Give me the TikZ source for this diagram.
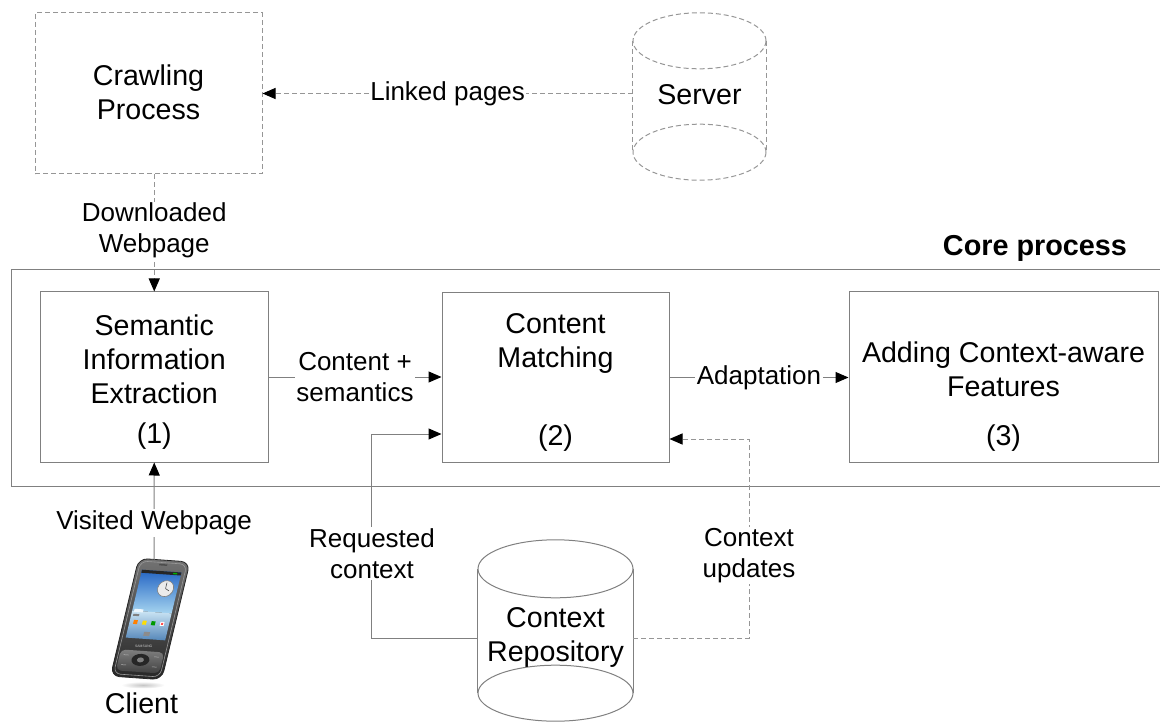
\documentclass[tikz,border=0pt]{standalone}
\usepackage{fontspec}
\setmainfont{Liberation Sans}
\usetikzlibrary{arrows.meta,calc}
\definecolor{linegray}{RGB}{128,128,128}
\definecolor{dashgray}{RGB}{150,150,150}
\definecolor{skytop}{RGB}{35,100,195}
\definecolor{skymid}{RGB}{165,212,240}
\definecolor{haze}{RGB}{205,230,245}
\definecolor{skybot}{RGB}{85,135,185}
\tikzset{
  boxline/.style={draw=linegray, line width=1pt},
  dashline/.style={draw=dashgray, line width=1pt, dash pattern=on 5pt off 3pt},
  procbox/.style={boxline, inner sep=0pt, minimum height=170pt},
  boxtext/.style={font=\fontsize{28.6}{34}\selectfont, align=center, inner sep=0pt},
  lbl/.style={font=\fontsize{26}{31}\selectfont, align=center, fill=white, inner sep=1.5pt},
  tip/.style={-{Triangle[length=13pt,width=11pt,black]}},
  conn/.style={boxline, tip},
  dconn/.style={dashline, tip},
}
\begin{document}
\begin{tikzpicture}[x=1pt, y=-1pt]
\useasboundingbox (0,0) rectangle (1160,722);

% ---- crawler and server ----
\node[dashline, inner sep=0pt, minimum width=227pt, minimum height=161pt] (crawl) at (148.5,93.5) {};
\node[boxtext] (crawltxt) at (148.5,92) {Crawling\\Process};

\node[inner sep=0pt, minimum width=133pt, minimum height=167pt] (server) at (699.5,96.5) {};
\draw[dashline] ($(server.north)+(0,28)$) ellipse [x radius=66.5pt, y radius=28pt];
\draw[dashline] ($(server.south)-(0,28)$) ellipse [x radius=66.5pt, y radius=28pt];
\draw[dashline] ($(server.north west)+(0,28)$) -- ($(server.south west)-(0,28)$);
\draw[dashline] ($(server.north east)+(0,28)$) -- ($(server.south east)-(0,28)$);
\node[boxtext] (servertxt) at (699.5,95) {Server};

% ---- core process frame ----
\node[boxline, inner sep=0pt, minimum width=1155pt, minimum height=216pt] (core) at (588.5,378) {};
\node[font=\bfseries\fontsize{28.8}{34}\selectfont, inner sep=0pt] (corelbl) at (1035,248) {Core process};

% ---- process steps ----
\node[procbox, minimum width=227.5pt] (sem) at (154.25,377) {};
\node[boxtext] (semtxt) at (154.25,359) {Semantic\\Information\\Extraction};
\node[boxtext] (semnum) at (154.25,436) {(1)};

\node[procbox, minimum width=227pt] (match) at (555.5,377.5) {};
\node[boxtext] (matchtxt) at (555.5,343) {Content\\Matching};
\node[boxtext] (matchnum) at (555.5,438) {(2)};

\node[procbox, minimum width=309pt] (adapt) at (1003.5,377) {};
\node[boxtext] (adapttxt) at (1003.5,369.5) {Adding Context-aware\\Features};
\node[boxtext] (adaptnum) at (1003.5,438) {(3)};

% ---- context repository ----
\node[inner sep=0pt, minimum width=155pt, minimum height=181pt] (repo) at (555.5,630.5) {};
\draw[boxline] ($(repo.north)+(0,29)$) ellipse [x radius=77.5pt, y radius=29pt];
\draw[boxline] ($(repo.south)-(0,28)$) ellipse [x radius=77.5pt, y radius=28pt];
\draw[boxline] ($(repo.north west)+(0,29)$) -- ($(repo.south west)-(0,28)$);
\draw[boxline] ($(repo.north east)+(0,29)$) -- ($(repo.south east)-(0,28)$);
\node[boxtext] (repotxt) at (555.5,637) {Context\\Repository};

% ---- client handset ----
\coordinate (phonetop) at (154,560);
\shade[inner color=gray!45, outer color=white] (143,685) ellipse [x radius=22pt, y radius=3.5pt];
\begin{scope}[shift={(150,620)}, xslant=0.17, rotate=-4]
  \shade[top color=black!55, bottom color=black!85, rounded corners=9pt] (-26,-60) rectangle (26,58);
  \draw[black!85, line width=0.8pt, rounded corners=9pt] (-26,-60) rectangle (26,58);
  \draw[black!40, line width=0.6pt, rounded corners=7pt] (-23.5,-57.5) rectangle (23.5,55.5);
  \fill[black!70] (-4,-56) rectangle (4,-54.5);
  % screen
  \shade[top color=skytop, bottom color=skymid] (-20,-49) rectangle (20,-8);
  \shade[top color=haze, bottom color=skybot] (-20,-8) rectangle (20,19);
  \fill[black!85] (-20,-49) rectangle (20,-46);
  \fill[green!70!black] (12,-48.2) rectangle (16,-46.8);
  % clock widget
  \fill[white!92!black] (8,-32) circle [radius=8pt];
  \draw[gray, line width=0.6pt] (8,-32) circle [radius=8pt];
  \draw[black!70, line width=0.6pt] (8,-32) -- (8,-38) (8,-32) -- (12,-30);
  % search bar and icons
  \fill[white!80!skymid] (-18,-10) rectangle (-9,-7);
  \fill[black!50] (-18,-5) rectangle (-12,-3);
  \fill[orange] (-16,1) rectangle (-12,5);
  \fill[yellow!80!orange] (-7,1) rectangle (-3,5);
  \fill[green!60!black] (2,1) rectangle (6,5);
  \fill[white] (11,1) rectangle (15,5);
  \fill[red!70] (12,2) rectangle (14,4);
  \fill[black!45] (-3,12) rectangle (3,16);
  % brand and keypad
  \node[font=\fontsize{3.4}{3.4}\selectfont, text=white!80!black, inner sep=0pt] (brand) at (0,26) {SAMSUNG};
  \shade[top color=black!50, bottom color=black!75, rounded corners=5pt] (-22,31) rectangle (22,52);
  \fill[black!85] (0,40) ellipse [x radius=9pt, y radius=6pt];
  \fill[black!50] (0,40) ellipse [x radius=3.5pt, y radius=2.5pt];
  \draw[white!70!black, line width=0.5pt] (-18,36) -- (-13,36) (13,36) -- (18,36) (-18,46) -- (-13,46) (13,46) -- (18,46);
\end{scope}
\node[boxtext] (client) at (141.5,703) {Client};

% ---- connectors ----
\draw[dconn] (crawl.east -| server.west) -- (crawl.east)
  node[lbl, midway] (linked) {Linked pages};
\draw[dconn] (crawl.south -| sem.north) -- (sem.north)
  node[lbl, pos=0.48] (downl) {Downloaded\\Webpage};
\draw[conn] (phonetop) -- (sem.south)
  node[lbl, pos=0.38] (visited) {Visited Webpage};
\draw[conn] (sem.east) -- (sem.east -| match.west)
  node[lbl, midway] (cs) {Content +\\semantics};
\draw[conn] (match.east) -- (match.east -| adapt.west)
  node[lbl, midway] (adaptlbl) {Adaptation};
\draw[conn] ([yshift=-7.5pt]repo.west) -- ++(-106,0) |- ([yshift=-56.5pt]match.west);
\node[lbl] (reqlbl) at (372,553.5) {Requested\\context};
\draw[dconn] ([yshift=-7.5pt]repo.east) -- ++(116,0) |- ([yshift=-61.5pt]match.east);
\node[lbl] (updlbl) at (749,555.5) {Context\\updates};
\end{tikzpicture}
\end{document}
